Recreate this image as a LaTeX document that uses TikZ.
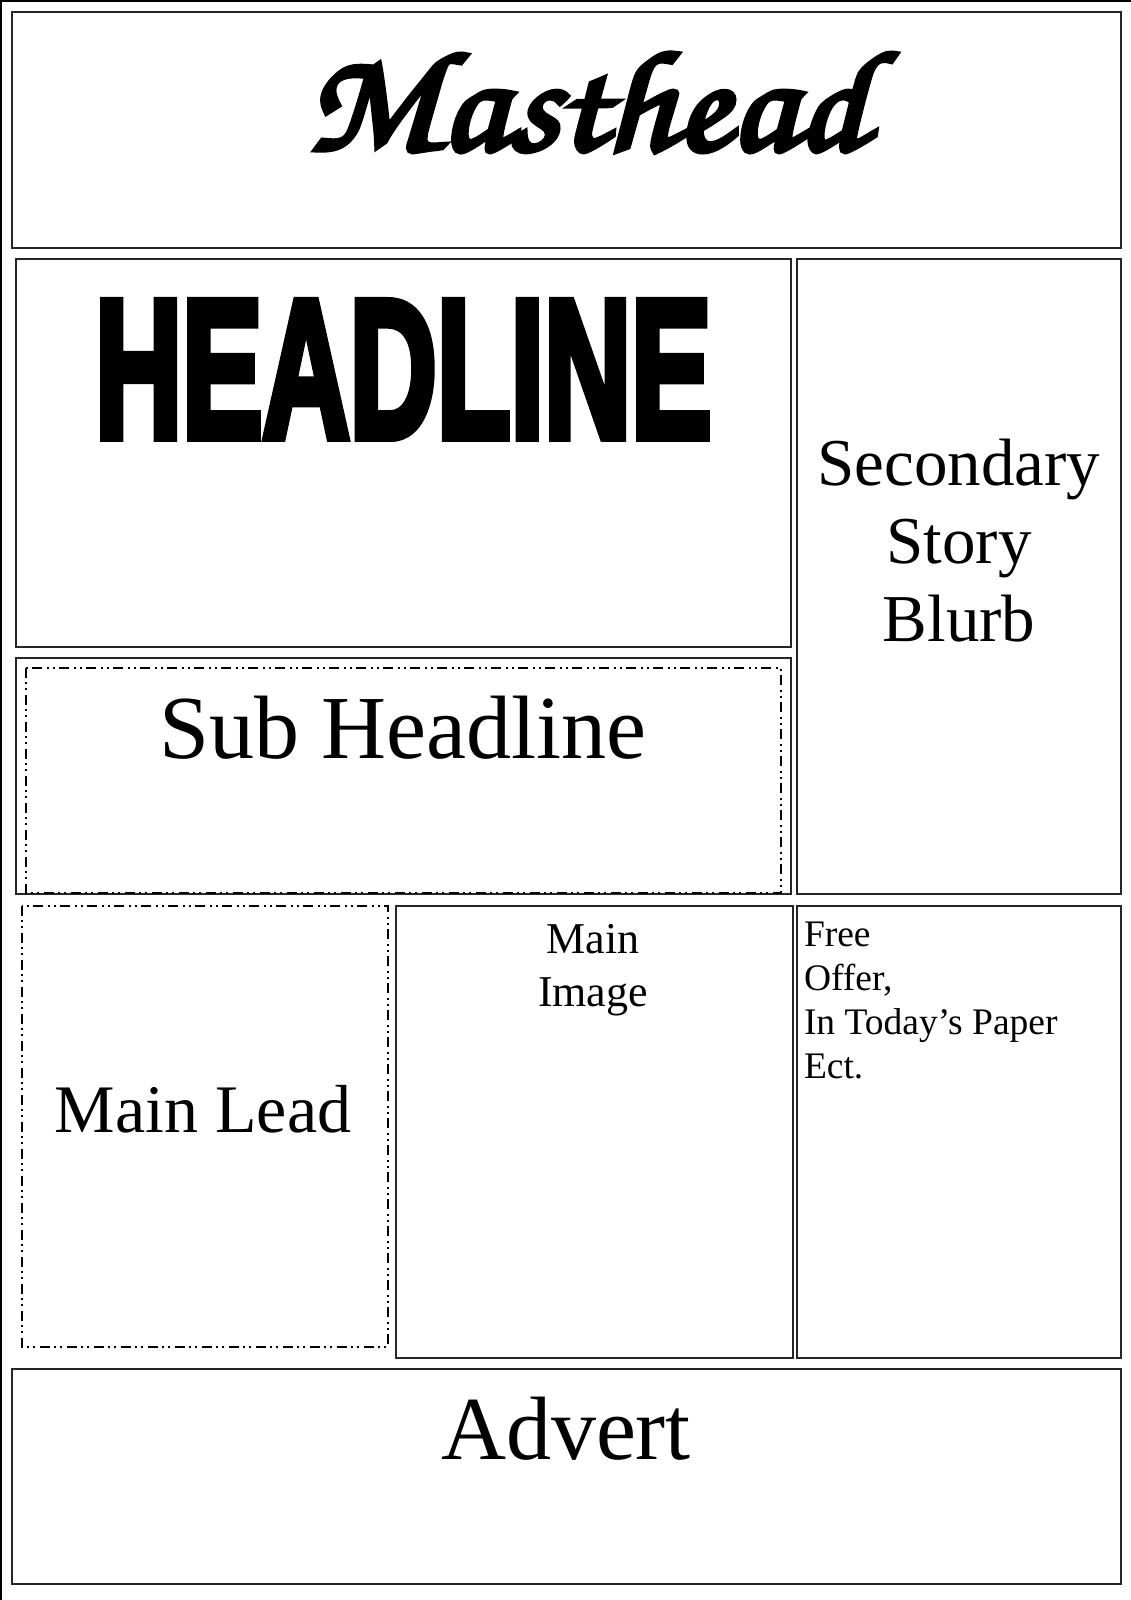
\documentclass[tikz,border=0pt]{standalone}
\usepackage{fontspec}
\usepackage{graphicx}
\setmainfont{Liberation Serif}
\newfontfamily\headfont{Liberation Sans}[BoldFeatures={FakeBold=5}]
\newfontfamily\mastfont{TeX Gyre Chorus}[FakeBold=3.5]
\tikzset{
  frame/.style={draw=black!85, line width=1.3pt},
  dashframe/.style={draw=black, line width=1.2pt,
    dash pattern=on 10pt off 4pt on 2pt off 4pt on 2pt off 5pt},
  lbl/.style={inner sep=0pt, outer sep=0pt, anchor=base, text=black},
}
\begin{document}
\begin{tikzpicture}[x=1pt,y=-1pt]
\useasboundingbox (0,0) rectangle (1131,1600);
\fill[white] (0,0) rectangle (1131,1600);
% outer page frame (left and top edges)
\draw[black, line width=1.5pt] (1,1600) -- (1,1) -- (1131,1);
% boxes
\draw[frame] (12,12) rectangle (1121,248);     % masthead
\draw[frame] (16,259) rectangle (791,647);     % headline
\draw[frame] (797,259) rectangle (1121,894);   % secondary story
\draw[frame] (16,658) rectangle (791,894);     % sub headline
\draw[dashframe] (26,668) rectangle (781,893);
\draw[dashframe] (22,906) rectangle (388,1347); % main lead
\draw[frame] (396,906) rectangle (793,1358);    % main image
\draw[frame] (797,906) rectangle (1121,1358);   % free offer
\draw[frame] (12,1369) rectangle (1121,1584);   % advert
% texts (for multi-line nodes the base anchor is the last line's baseline)
\node[lbl, anchor=base west] (mast) at (306,150)
  {\resizebox{560pt}{97pt}{\mastfont Masthead}};
\node[lbl, anchor=base west] (head) at (95,437)
  {\resizebox{616pt}{135pt}{\headfont\bfseries HEADLINE}};
\node[lbl, font={\fontsize{90}{100}\selectfont}] (sub) at (403,758) {Sub Headline};
\node[lbl, align=center, font={\fontsize{67}{78}\selectfont}] (sec) at (959,641)
  {Secondary\\Story\\Blurb};
\node[lbl, font={\fontsize{68}{80}\selectfont}] (lead) at (203,1132) {Main Lead};
\node[lbl, align=center, font={\fontsize{44}{53}\selectfont}] (img) at (593,1006)
  {Main\\Image};
\node[lbl, anchor=base west, align=left, font={\fontsize{37.5}{43.7}\selectfont}] (offer) at (804,1078)
  {Free\\Offer,\\In Today’s Paper\\Ect.};
\node[lbl, font={\fontsize{90}{100}\selectfont}] (advert) at (566,1459) {Advert};
\end{tikzpicture}
\end{document}
